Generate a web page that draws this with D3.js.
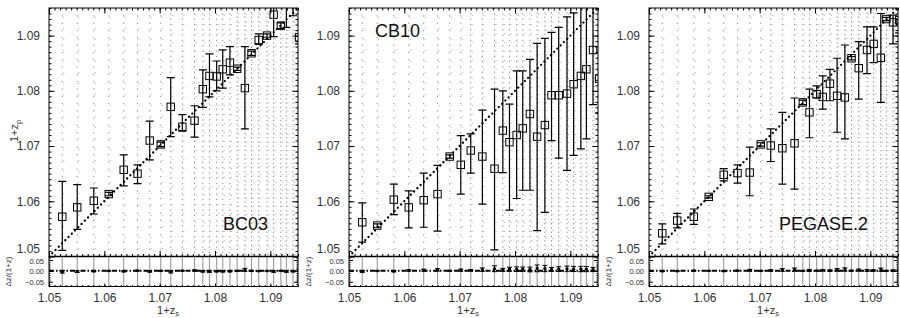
<!DOCTYPE html>
<html>
<head>
<meta charset="utf-8">
<script src="https://cdn.jsdelivr.net/npm/d3@7"></script>
<style>
  body { margin: 0; background: #fff; }
  svg { display: block; font-family: "Liberation Sans", Arial, sans-serif; }
</style>
</head>
<body>
<div id="chart"></div>
<script>
// spectroscopic bins (1+z_s), shared by the three panels
const zsBins = [1.0524, 1.0551, 1.0581, 1.0608, 1.0635, 1.0660, 1.0682, 1.0702, 1.0720,
  1.0741, 1.0763, 1.0778, 1.0790, 1.0803, 1.0814, 1.0827, 1.0840, 1.0854, 1.0866,
  1.0879, 1.0894, 1.0906, 1.0919, 1.0929, 1.0941, 1.0952];

// BC03 : median 1+z_p and error bar ends
const bc03Zp = [1.0572, 1.0589, 1.0601, 1.0613, 1.0657, 1.0650, 1.0710, 1.0703, 1.0771,
  1.0735, 1.0746, 1.0803, 1.0827, 1.0826, 1.0839, 1.0851, 1.0840, 1.0805, 1.0868,
  1.0892, 1.0900, 1.0938, 1.0918, 1.0962, 1.0966, 1.0897];
const bc03Lo = [1.0511, 1.0549, 1.0577, 1.0610, 1.0628, 1.0632, 1.0675, 1.0699, 1.0717,
  1.0727, 1.0716, 1.0770, 1.0789, 1.0800, 1.0805, 1.0829, 1.0837, 1.0731, 1.0864,
  1.0884, 1.0897, 1.0898, 1.0913, 1.0915, 1.0936, 1.0885];
const bc03Hi = [1.0636, 1.0630, 1.0624, 1.0616, 1.0684, 1.0666, 1.0745, 1.0707, 1.0824,
  1.0757, 1.0773, 1.0838, 1.0867, 1.0854, 1.0874, 1.0880, 1.0843, 1.0880, 1.0872,
  1.0903, 1.0903, 1.0975, 1.0923, 1.0990, 1.0990, 1.0960];

// CB10
const cb10Zp = [1.0562, 1.0556, 1.0603, 1.0589, 1.0602, 1.0613, 1.0681, 1.0666, 1.0692,
  1.0681, 1.0659, 1.0728, 1.0707, 1.0720, 1.0732, 1.0758, 1.0717, 1.0738, 1.0792,
  1.0792, 1.0795, 1.0812, 1.0827, 1.0839, 1.0874, 1.0822];
const cb10Lo = [1.0526, 1.0553, 1.0576, 1.0552, 1.0553, 1.0546, 1.0678, 1.0613, 1.0651,
  1.0595, 1.0512, 1.0652, 1.0584, 1.0605, 1.0620, 1.0620, 1.0547, 1.0580, 1.0710,
  1.0678, 1.0656, 1.0683, 1.0695, 1.0713, 1.0775, 1.0760];
const cb10Hi = [1.0597, 1.0559, 1.0631, 1.0619, 1.0651, 1.0665, 1.0684, 1.0719, 1.0722,
  1.0765, 1.0803, 1.0800, 1.0776, 1.0836, 1.0836, 1.0857, 1.0886, 1.0895, 1.0906,
  1.0915, 1.0934, 1.0941, 1.0965, 1.0975, 1.0985, 1.0980];

// PEGASE.2
const pegZp = [1.0542, 1.0565, 1.0572, 1.0608, 1.0648, 1.0651, 1.0652, 1.0703, 1.0701,
  1.0696, 1.0705, 1.0779, 1.0761, 1.0794, 1.0789, 1.0813, 1.0791, 1.0788, 1.0859,
  1.0841, 1.0874, 1.0885, 1.0860, 1.0930, 1.0924, 1.0928];
const pegLo = [1.0523, 1.0552, 1.0558, 1.0606, 1.0637, 1.0633, 1.0610, 1.0700, 1.0672,
  1.0631, 1.0622, 1.0775, 1.0715, 1.0787, 1.0767, 1.0782, 1.0725, 1.0713, 1.0856,
  1.0785, 1.0831, 1.0851, 1.0779, 1.0927, 1.0885, 1.0905];
const pegHi = [1.0559, 1.0578, 1.0586, 1.0610, 1.0659, 1.0666, 1.0698, 1.0706, 1.0731,
  1.0761, 1.0787, 1.0783, 1.0803, 1.0809, 1.0827, 1.0839, 1.0859, 1.0883, 1.0862,
  1.0889, 1.0916, 1.0916, 1.0940, 1.0933, 1.0937, 1.0950];

const xTicks = [1.05, 1.06, 1.07, 1.08, 1.09];
const yTicks = [1.05, 1.06, 1.07, 1.08, 1.09];
const resTicks = [-0.05, 0.00, 0.05];

const panels = [
  {name: 'BC03', zp: bc03Zp, lo: bc03Lo, hi: bc03Hi, corner: 'bottom'},
  {name: 'CB10', zp: cb10Zp, lo: cb10Lo, hi: cb10Hi, corner: 'top'},
  {name: 'PEGASE.2', zp: pegZp, lo: pegLo, hi: pegHi, corner: 'bottom'}
];

const W = 900, H = 318;
const plotW = 249, mainTop = 8, mainH = 248.5, resH = 30;
const font = '"Liberation Sans", Arial, sans-serif';

const svg = d3.select('#chart').append('svg')
  .attr('width', W).attr('height', H);

const x = d3.scaleLinear().domain([1.05, 1.095]).range([0, plotW]);
const y = d3.scaleLinear().domain([1.05, 1.095]).range([mainH, 0]);
const yr = d3.scaleLinear().domain([-0.072, 0.066]).range([resH, 0]);

const minorX = d3.range(1050, 1096).map(d => d / 1000);
const minorRes = d3.range(-7, 7).map(d => d / 100);

function drawPanel(p, i) {
  const g = svg.append('g').attr('transform', `translate(${49 + i * 300},${mainTop})`);
  const clipId = 'clip' + i, clipRes = 'clipr' + i;
  g.append('clipPath').attr('id', clipId).append('rect')
    .attr('width', plotW).attr('height', mainH);
  g.append('clipPath').attr('id', clipRes).append('rect')
    .attr('width', plotW).attr('height', resH);

  // main panel
  const main = g.append('g').attr('clip-path', `url(#${clipId})`);

  // grey columns of individual galaxies
  zsBins.forEach((z, j) => {
    const gap = j < 8 ? 6 : (j < 16 ? 4 : 3);
    main.append('line')
      .attr('x1', x(z)).attr('x2', x(z))
      .attr('y1', 0).attr('y2', mainH)
      .attr('stroke', '#8c8c8c').attr('stroke-width', 1)
      .attr('stroke-dasharray', `1.3,${gap}`);
    main.append('line')
      .attr('x1', x(z) + 1.5).attr('x2', x(z) + 1.5)
      .attr('y1', 0).attr('y2', mainH)
      .attr('stroke', '#b0b0b0').attr('stroke-width', 1)
      .attr('stroke-dasharray', `1,${gap + 4}`)
      .attr('stroke-dashoffset', 2);
  });

  // 1:1 relation as dots
  main.append('line')
    .attr('x1', x(1.05)).attr('y1', y(1.05))
    .attr('x2', x(1.095)).attr('y2', y(1.095))
    .attr('stroke', '#000').attr('stroke-width', 2.3)
    .attr('stroke-linecap', 'round')
    .attr('stroke-dasharray', '0,4.6');

  // error bars
  const bars = main.selectAll('g.bar').data(zsBins).enter().append('g');
  bars.append('line')
    .attr('x1', d => x(d)).attr('x2', d => x(d))
    .attr('y1', (d, j) => y(p.lo[j])).attr('y2', (d, j) => y(p.hi[j]))
    .attr('stroke', '#000').attr('stroke-width', 1.2);
  ['lo', 'hi'].forEach(k => {
    bars.append('line')
      .attr('x1', d => x(d) - 4).attr('x2', d => x(d) + 4)
      .attr('y1', (d, j) => y(p[k][j])).attr('y2', (d, j) => y(p[k][j]))
      .attr('stroke', '#000').attr('stroke-width', 1.2);
  });
  bars.append('rect')
    .attr('x', d => x(d) - 3.7)
    .attr('y', (d, j) => y(p.zp[j]) - 3.7)
    .attr('width', 7.4).attr('height', 7.4)
    .attr('fill', 'none').attr('stroke', '#000').attr('stroke-width', 1);

  // model label
  g.append('text')
    .attr('x', p.corner === 'top' ? 26 : 219)
    .attr('y', p.corner === 'top' ? 29 : 222)
    .attr('text-anchor', p.corner === 'top' ? 'start' : 'end')
    .attr('font-size', 18).attr('fill', '#111')
    .text(p.name);

  // frame + ticks main
  const tickIn = (axis, size) => axis.tickSize(size).tickFormat('');
  const addAxis = (gen, tx, ty) => {
    const a = g.append('g').attr('transform', `translate(${tx},${ty})`).call(gen);
    a.select('.domain').remove();
    a.selectAll('line').attr('stroke', '#000');
    return a;
  };
  addAxis(tickIn(d3.axisBottom(x).tickValues(minorX), -2.5), 0, mainH);
  addAxis(tickIn(d3.axisBottom(x).tickValues(xTicks), -5.5), 0, mainH);
  addAxis(tickIn(d3.axisTop(x).tickValues(minorX), -2.5), 0, 0);
  addAxis(tickIn(d3.axisTop(x).tickValues(xTicks), -5.5), 0, 0);
  addAxis(tickIn(d3.axisRight(y).tickValues(minorX), -2.5), plotW, 0);
  addAxis(tickIn(d3.axisRight(y).tickValues(yTicks), -5.5), plotW, 0);
  addAxis(tickIn(d3.axisLeft(y).tickValues(minorX), -2.5), 0, 0);
  const yl = addAxis(d3.axisLeft(y).tickValues(yTicks).tickSize(-5.5).tickPadding(9)
    .tickFormat(d3.format('.2f')), 0, 0);
  yl.selectAll('text').attr('font-size', 12).attr('fill', '#333')
    .attr('font-family', font)
    .attr('dy', d => d === 1.05 ? '-0.32em' : '0.32em');

  g.append('rect').attr('width', plotW).attr('height', mainH)
    .attr('fill', 'none').attr('stroke', '#000').attr('stroke-width', 1);

  // residual panel
  const r = g.append('g').attr('transform', `translate(0,${mainH})`);
  const rc = r.append('g').attr('clip-path', `url(#${clipRes})`);
  rc.selectAll('line.col').data(zsBins).enter().append('line')
    .attr('x1', d => x(d)).attr('x2', d => x(d))
    .attr('y1', 0).attr('y2', resH)
    .attr('stroke', '#9a9a9a').attr('stroke-width', 1.1);
  rc.append('line')
    .attr('x1', 0).attr('x2', plotW)
    .attr('y1', yr(0)).attr('y2', yr(0))
    .attr('stroke', '#000').attr('stroke-width', 2)
    .attr('stroke-dasharray', '5,2,1.5,2');
  const res = zsBins.map((z, j) => ({
    z: z,
    d: (z - p.zp[j]) / z,
    e: (p.hi[j] - p.lo[j]) / 2 / z
  }));
  const rb = rc.selectAll('g.rb').data(res).enter().append('g');
  rb.append('line')
    .attr('x1', d => x(d.z)).attr('x2', d => x(d.z))
    .attr('y1', d => yr(d.d - d.e)).attr('y2', d => yr(d.d + d.e))
    .attr('stroke', '#000').attr('stroke-width', 1.1);
  [-1, 1].forEach(s => {
    rb.append('line')
      .attr('x1', d => x(d.z) - 2.5).attr('x2', d => x(d.z) + 2.5)
      .attr('y1', d => yr(d.d + s * d.e)).attr('y2', d => yr(d.d + s * d.e))
      .attr('stroke', '#000').attr('stroke-width', 1);
  });
  rb.append('rect')
    .attr('x', d => x(d.z) - 1.5).attr('y', d => yr(d.d) - 1.2)
    .attr('width', 3).attr('height', 2.4).attr('fill', '#000');

  const addR = (gen, tx, ty) => {
    const a = r.append('g').attr('transform', `translate(${tx},${ty})`).call(gen);
    a.select('.domain').remove();
    a.selectAll('line').attr('stroke', '#000');
    return a;
  };
  addR(tickIn(d3.axisBottom(x).tickValues(minorX), -1.5), 0, resH);
  addR(tickIn(d3.axisBottom(x).tickValues(xTicks), -3), 0, resH);
  addR(tickIn(d3.axisRight(yr).tickValues(minorRes), -1.5), plotW, 0);
  addR(tickIn(d3.axisRight(yr).tickValues(resTicks), -4), plotW, 0);
  addR(tickIn(d3.axisLeft(yr).tickValues(minorRes), -1.5), 0, 0);
  const rl = addR(d3.axisLeft(yr).tickValues(resTicks).tickSize(-4).tickPadding(5)
    .tickFormat(d3.format('.2f')), 0, 0);
  rl.selectAll('text').attr('font-size', 7.5).attr('fill', '#333')
    .attr('font-family', font)
    .attr('dy', d => d > 0 ? '0.45em' : '0.32em')
    .text(d => d3.format('.2f')(d).replace('-', '\u2212'));

  r.append('rect').attr('width', plotW).attr('height', resH)
    .attr('fill', 'none').attr('stroke', '#000').attr('stroke-width', 1);
  r.append('line').attr('x1', 0).attr('x2', plotW).attr('y1', 0).attr('y2', 0)
    .attr('stroke', '#000').attr('stroke-width', 1.6);

  // x tick labels
  const xl = addR(d3.axisBottom(x).tickValues(xTicks).tickSize(0).tickPadding(7)
    .tickFormat(d3.format('.2f')), 0, resH);
  xl.selectAll('text').attr('font-size', 12).attr('fill', '#333')
    .attr('font-family', font);

  // x title
  const xt = g.append('text')
    .attr('x', 119).attr('y', mainH + resH + 27)
    .attr('text-anchor', 'middle').attr('font-size', 11).attr('fill', '#333');
  xt.append('tspan').text('1+z');
  xt.append('tspan').attr('font-size', 7.5).attr('dy', 2).text('s');

  // residual title
  g.append('text')
    .attr('transform', `translate(-38,${mainH + resH / 2}) rotate(-90)`)
    .attr('text-anchor', 'middle').attr('font-size', 8).attr('fill', '#333')
    .text('\u0394z/(1+z)');

  if (i === 0) {
    const yt = g.append('text')
      .attr('transform', `translate(-31,${123}) rotate(-90)`)
      .attr('text-anchor', 'middle').attr('font-size', 11).attr('fill', '#333');
    yt.append('tspan').text('1+z');
    yt.append('tspan').attr('font-size', 7.5).attr('dy', 3).text('p');
  }
}

panels.forEach(drawPanel);
</script>
</body>
</html>
